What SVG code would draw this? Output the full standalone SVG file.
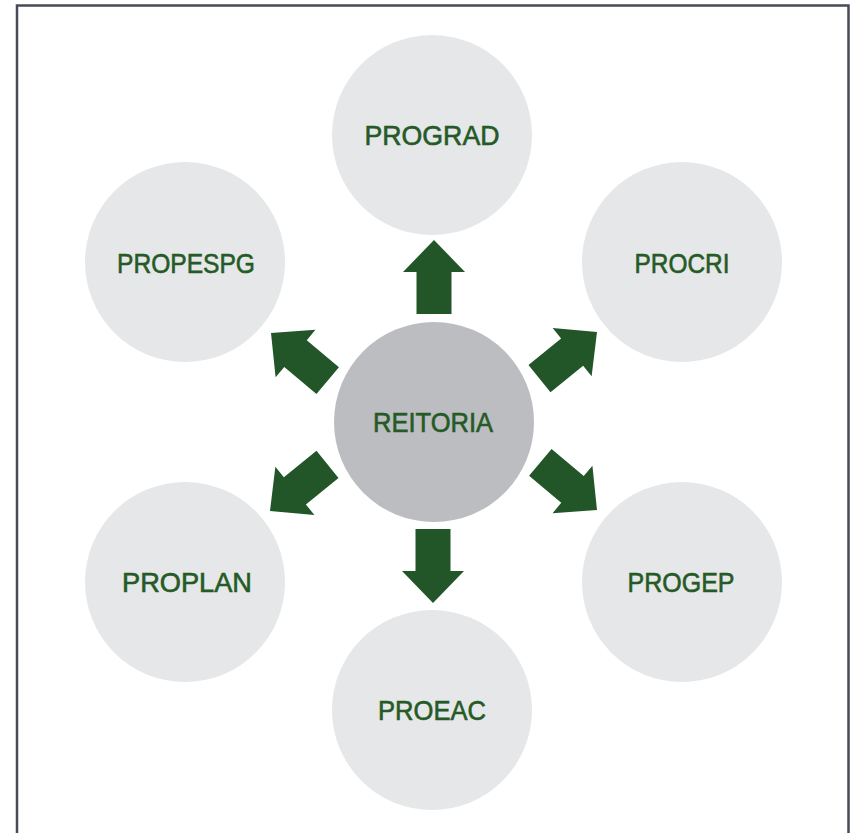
<svg xmlns="http://www.w3.org/2000/svg" width="850" height="833" viewBox="0 0 850 833">
<defs>
<style>
.node{fill:#e6e7e8}
.center{fill:#bcbdc0}
.lbl{font-family:"Liberation Sans",Arial,sans-serif;font-size:28px;fill:#255a27;stroke:#255a27;stroke-width:0.6px;text-anchor:middle;dominant-baseline:central}
.arrow{fill:#225628}
</style>
<path id="arr" d="M0,0 L31,32 L17.5,32 L17.5,74 L-17.5,74 L-17.5,32 L-31,32 Z"/>
</defs>
<rect width="850" height="833" fill="#ffffff"/>
<path d="M17,833 V5.5 H848.5 V833" fill="none" stroke="#474b57" stroke-width="2.5"/>
<g id="PROGRAD"><circle class="node" cx="432" cy="135" r="100"/><text class="lbl" x="432" y="135" textLength="135" lengthAdjust="spacingAndGlyphs">PROGRAD</text></g>
<g id="PROPESPG"><circle class="node" cx="185" cy="262" r="100"/><text class="lbl" x="186" y="263" textLength="138" lengthAdjust="spacingAndGlyphs">PROPESPG</text></g>
<g id="PROCRI"><circle class="node" cx="682" cy="262" r="100"/><text class="lbl" x="682" y="263" textLength="95" lengthAdjust="spacingAndGlyphs">PROCRI</text></g>
<g id="REITORIA"><circle class="center" cx="434" cy="422" r="100"/><text class="lbl" x="433" y="422" textLength="120" lengthAdjust="spacingAndGlyphs">REITORIA</text></g>
<g id="PROPLAN"><circle class="node" cx="185" cy="582" r="100"/><text class="lbl" x="187" y="582" textLength="130" lengthAdjust="spacingAndGlyphs">PROPLAN</text></g>
<g id="PROGEP"><circle class="node" cx="682" cy="582" r="100"/><text class="lbl" x="681" y="582" textLength="107" lengthAdjust="spacingAndGlyphs">PROGEP</text></g>
<g id="PROEAC"><circle class="node" cx="432" cy="710" r="100"/><text class="lbl" x="432" y="710" textLength="108" lengthAdjust="spacingAndGlyphs">PROEAC</text></g>
<g id="connectors" class="arrow">
<use href="#arr" transform="translate(434,240)"/>
<use href="#arr" transform="translate(433,603) rotate(180)"/>
<use href="#arr" transform="translate(271,333) rotate(-50)"/>
<use href="#arr" transform="translate(597,332) rotate(51)"/>
<use href="#arr" transform="translate(270,511) rotate(-129)"/>
<use href="#arr" transform="translate(597,510) rotate(130)"/>
</g>
</svg>
